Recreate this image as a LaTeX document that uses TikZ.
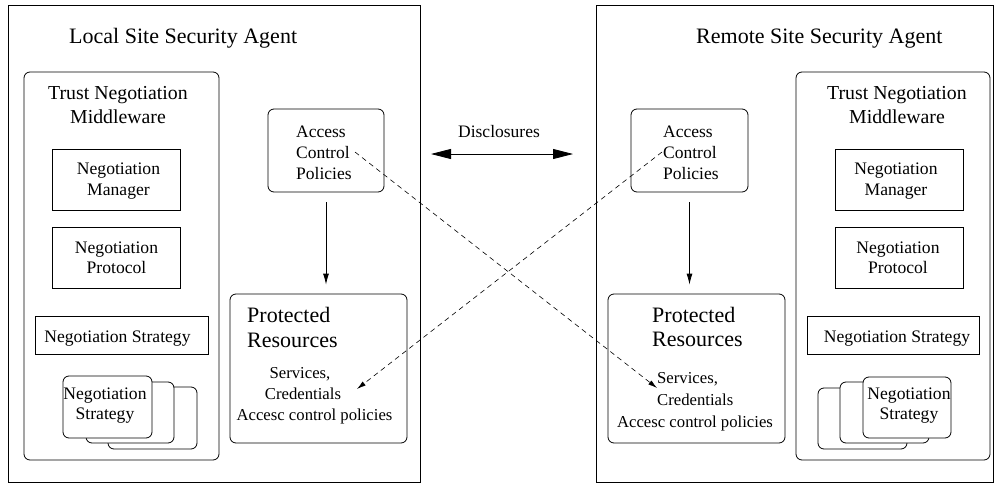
\documentclass[tikz,border=0pt]{standalone}
\usepackage{fontspec}
\setmainfont{Liberation Serif}
\usetikzlibrary{arrows.meta,fit}
\begin{document}
\begin{tikzpicture}[x=1pt,y=-1pt,
 box/.style={draw, line width=0.8pt, inner sep=0pt},
 rbox/.style={box, rounded corners=6pt},
 wbox/.style={rbox, fill=white},
 txt/.style={inner sep=0pt, anchor=base},
 txtl/.style={inner sep=0pt, anchor=base west},
 big/.style={font=\fontsize{22}{26}\selectfont},
 mid/.style={font=\fontsize{19.8}{24}\selectfont},
 med/.style={font=\fontsize{17.6}{21}\selectfont},
 sml/.style={font=\fontsize{17.5}{20}\selectfont},
 tiny/.style={font=\fontsize{16.7}{20}\selectfont},
 arr/.style={line width=0.8pt, -{Latex[length=11pt,width=6pt]}},
 darr/.style={line width=0.6pt, dash pattern=on 5pt off 4pt, -{Latex[length=9pt,width=5pt]}},
 barr/.style={line width=0.8pt, {Triangle[length=20pt,width=10pt]}-{Triangle[length=20pt,width=10pt]}},
]
\useasboundingbox (0,0) rectangle (997,485);

% ---------- Local side ----------
\node[box, fit={(8,5) (420,482)}] (Lout) {};
\node[txtl, big] (Ltitle) at (69,43) {Local Site Security Agent};
\node[rbox, fit={(24,72) (219,460)}] (Ltnm) {};
\node[txt, mid] (Ltnma) at (118,99) {Trust Negotiation};
\node[txt, mid] (Ltnmb) at (118,123) {Middleware};
\node[box, fit={(52,149) (180,210)}] (Lnm) {};
\node[txt, med] (Lnma) at (118.5,174) {Negotiation};
\node[txt, med] (Lnmb) at (118.5,195) {Manager};
\node[box, fit={(52,227) (180,288)}] (Lnp) {};
\node[txt, med] (Lnpa) at (116.5,253) {Negotiation};
\node[txt, med] (Lnpb) at (116.5,273) {Protocol};
\node[box, fit={(35,316) (208,354)}] (Lns) {};
\node[txt, med] (Lnsa) at (117.5,342) {Negotiation Strategy};
\node[wbox, fit={(108,387) (197,449)}] (Lsc) {};
\node[wbox, fit={(86,382) (174,443)}] (Lsb) {};
\node[wbox, fit={(63,376) (152,438)}] (Lsa) {};
\node[txt, med] (Lsaa) at (105,399) {Negotiation};
\node[txt, med] (Lsab) at (105,419) {Strategy};
\node[rbox, fit={(268,109) (384,192)}] (Lacp) {};
\node[txtl, sml] (Lacpa) at (296,137) {Access};
\node[txtl, sml] (Lacpb) at (296,158) {Control};
\node[txtl, sml] (Lacpc) at (296,179) {Policies};
\node[rbox, fit={(230,294) (407,443)}] (Lpr) {};
\node[txtl, big] (Lpra) at (247,322) {Protected};
\node[txtl, big] (Lprb) at (247,347) {Resources};
\node[txt, tiny] (Lprc) at (300,378) {Services,};
\node[txt, tiny] (Lprd) at (303,399) {Credentials};
\node[txt, tiny] (Lpre) at (314.5,420) {Accesc control policies};

% ---------- Remote side ----------
\node[box, fit={(596,5) (993,482)}] (Rout) {};
\node[txtl, big] (Rtitle) at (696,43) {Remote Site Security Agent};
\node[rbox, fit={(796,72) (990,460)}] (Rtnm) {};
\node[txt, mid] (Rtnma) at (897,99) {Trust Negotiation};
\node[txt, mid] (Rtnmb) at (897,123) {Middleware};
\node[box, fit={(835,149) (963,210)}] (Rnm) {};
\node[txt, med] (Rnma) at (896,174) {Negotiation};
\node[txt, med] (Rnmb) at (896,195) {Manager};
\node[box, fit={(835,227) (963,288)}] (Rnp) {};
\node[txt, med] (Rnpa) at (898,253) {Negotiation};
\node[txt, med] (Rnpb) at (898,273) {Protocol};
\node[box, fit={(807,316) (979,354)}] (Rns) {};
\node[txt, med] (Rnsa) at (897,342) {Negotiation Strategy};
\node[wbox, fit={(818,388) (907,449)}] (Rsc) {};
\node[wbox, fit={(840,382) (929,443)}] (Rsb) {};
\node[wbox, fit={(863,377) (951,438)}] (Rsa) {};
\node[txt, med] (Rsaa) at (909,399) {Negotiation};
\node[txt, med] (Rsab) at (909,419) {Strategy};
\node[rbox, fit={(631,109) (748,192)}] (Racp) {};
\node[txtl, sml] (Racpa) at (663,137) {Access};
\node[txtl, sml] (Racpb) at (663,158) {Control};
\node[txtl, sml] (Racpc) at (663,179) {Policies};
\node[rbox, fit={(608,294) (785,443)}] (Rpr) {};
\node[txtl, big] (Rpra) at (652,322) {Protected};
\node[txtl, big] (Rprb) at (652,346) {Resources};
\node[txtl, tiny] (Rprc) at (657,383) {Services,};
\node[txtl, tiny] (Rprd) at (657,405) {Credentials};
\node[txt, tiny] (Rpre) at (695,427) {Accesc control policies};

% ---------- Middle ----------
\node[txt, sml] (Disc) at (499,137) {Disclosures};
\coordinate (DL) at (431,154);
\coordinate (DR) at (573,154);
\draw[barr] (DL) -- (DR);

% vertical arrows
\draw[arr, shorten <=10pt, shorten >=9pt] (Lacp.south) -- (Lacp.south |- Lpr.north);
\draw[arr, shorten <=10pt, shorten >=9pt] (Racp.south) -- (Racp.south |- Rpr.north);

% dashed crossing arrows
\coordinate (Lds) at (355,152);
\coordinate (Rde) at (657,388);
\coordinate (Rds) at (662,152);
\coordinate (Lde) at (357,389);
\draw[darr] (Lds) -- (Rde);
\draw[darr] (Rds) -- (Lde);
\end{tikzpicture}
\end{document}
